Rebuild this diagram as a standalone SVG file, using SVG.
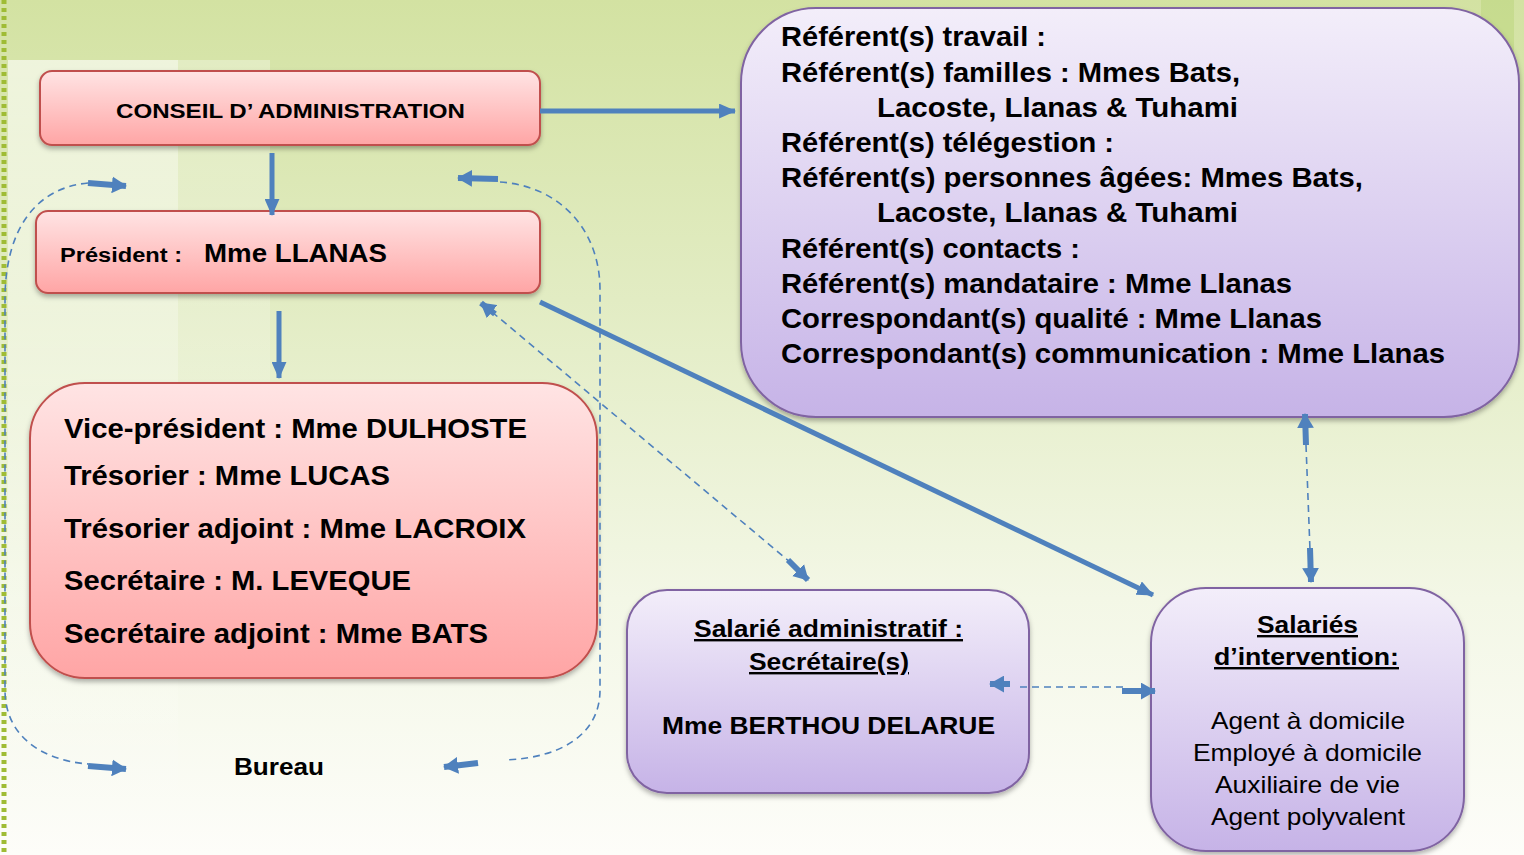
<svg xmlns="http://www.w3.org/2000/svg" width="1524" height="855" viewBox="0 0 1524 855">
<defs>
  <linearGradient id="bg" x1="0" y1="0" x2="0" y2="1">
    <stop offset="0" stop-color="#d3e2a2"/>
    <stop offset="0.35" stop-color="#e2ecc3"/>
    <stop offset="0.7" stop-color="#f3f7e6"/>
    <stop offset="1" stop-color="#fdfdf9"/>
  </linearGradient>
  <linearGradient id="bgL" x1="0" y1="0" x2="0" y2="1">
    <stop offset="0" stop-color="#ffffff" stop-opacity="0.6"/>
    <stop offset="1" stop-color="#ffffff" stop-opacity="0"/>
  </linearGradient>
  <linearGradient id="red" x1="0" y1="0" x2="0" y2="1">
    <stop offset="0" stop-color="#ffe4e4"/>
    <stop offset="1" stop-color="#ffa5a5"/>
  </linearGradient>
  <linearGradient id="purple" x1="0" y1="0" x2="0" y2="1">
    <stop offset="0" stop-color="#f3eefa"/>
    <stop offset="1" stop-color="#c6b3e7"/>
  </linearGradient>
  <filter id="sh" x="-10%" y="-10%" width="120%" height="130%">
    <feDropShadow dx="0" dy="3" stdDeviation="2.5" flood-color="#000" flood-opacity="0.3"/>
  </filter>
  <marker id="ah" viewBox="0 0 16 14" refX="15" refY="7" markerWidth="17" markerHeight="15" markerUnits="userSpaceOnUse" orient="auto">
    <path d="M0,0 L16,7 L0,14 z" fill="#4f81bd"/>
  </marker>
  <marker id="ahs" viewBox="0 0 16 18" refX="15" refY="9" markerWidth="15" markerHeight="17" markerUnits="userSpaceOnUse" orient="auto">
    <path d="M0,0 L16,9 L0,18 z" fill="#4f81bd"/>
  </marker>
  <style>
    .t{font-family:"Liberation Sans",Arial,sans-serif;font-weight:bold;fill:#000}
    .n{font-family:"Liberation Sans",Arial,sans-serif;font-weight:normal;fill:#000}
    .rbox{fill:url(#red);stroke:#c0504d;stroke-width:2}
    .pbox{fill:url(#purple);stroke:#8064a2;stroke-width:2}
    .solid{stroke:#4f81bd;stroke-width:5;fill:none}
    .stub{stroke:#4f81bd;stroke-width:6;fill:none}
    .dash{stroke:#4f81bd;stroke-width:1.6;fill:none;stroke-dasharray:7 5}
  </style>
</defs>

<g id="background">
  <rect x="0" y="0" width="1524" height="855" fill="url(#bg)"/>
  <rect x="8" y="60" width="170" height="795" fill="url(#bgL)"/>
  <rect x="178" y="60" width="92" height="700" fill="url(#bgL)" opacity="0.5"/>
  <rect x="1481" y="0" width="33" height="140" fill="#c3d98a" opacity="0.8"/>
  <line x1="4" y1="0" x2="4" y2="855" stroke="#9fbc35" stroke-width="5" stroke-dasharray="4 4"/>
</g>

<g id="conseil">
  <rect class="rbox" x="40" y="71" width="500" height="74" rx="12" filter="url(#sh)"/>
  <text class="t" x="116" y="118" font-size="21" textLength="349" lengthAdjust="spacingAndGlyphs">CONSEIL D’ ADMINISTRATION</text>
</g>

<g id="president">
  <rect class="rbox" x="36" y="211" width="504" height="82" rx="12" filter="url(#sh)"/>
  <text class="t" x="60" y="262" font-size="20" textLength="122" lengthAdjust="spacingAndGlyphs">Président :</text>
  <text class="t" x="204" y="262" font-size="26" textLength="183" lengthAdjust="spacingAndGlyphs">Mme LLANAS</text>
</g>

<g id="bureau-box">
  <rect class="rbox" x="30" y="383" width="567" height="295" rx="55" filter="url(#sh)"/>
  <text class="t" x="64" y="438" font-size="28" textLength="463" lengthAdjust="spacingAndGlyphs">Vice-président : Mme DULHOSTE</text>
  <text class="t" x="64" y="485" font-size="28" textLength="326" lengthAdjust="spacingAndGlyphs">Trésorier : Mme LUCAS</text>
  <text class="t" x="64" y="538" font-size="28" textLength="462" lengthAdjust="spacingAndGlyphs">Trésorier adjoint : Mme LACROIX</text>
  <text class="t" x="64" y="590" font-size="28" textLength="347" lengthAdjust="spacingAndGlyphs">Secrétaire : M. LEVEQUE</text>
  <text class="t" x="64" y="643" font-size="28" textLength="424" lengthAdjust="spacingAndGlyphs">Secrétaire adjoint : Mme BATS</text>
</g>

<g id="bureau-label">
  <text class="t" x="234" y="775" font-size="24" textLength="90" lengthAdjust="spacingAndGlyphs">Bureau</text>
</g>

<g id="referents">
  <rect class="pbox" x="741" y="8" width="778" height="409" rx="75" filter="url(#sh)"/>
  <text class="t" x="781" y="46" font-size="28" textLength="265" lengthAdjust="spacingAndGlyphs">Référent(s) travail :</text>
  <text class="t" x="781" y="82" font-size="28" textLength="459" lengthAdjust="spacingAndGlyphs">Référent(s) familles : Mmes Bats,</text>
  <text class="t" x="877" y="117" font-size="28" textLength="361" lengthAdjust="spacingAndGlyphs">Lacoste, Llanas &amp; Tuhami</text>
  <text class="t" x="781" y="152" font-size="28" textLength="333" lengthAdjust="spacingAndGlyphs">Référent(s) télégestion :</text>
  <text class="t" x="781" y="187" font-size="28" textLength="582" lengthAdjust="spacingAndGlyphs">Référent(s) personnes âgées: Mmes Bats,</text>
  <text class="t" x="877" y="222" font-size="28" textLength="361" lengthAdjust="spacingAndGlyphs">Lacoste, Llanas &amp; Tuhami</text>
  <text class="t" x="781" y="258" font-size="28" textLength="299" lengthAdjust="spacingAndGlyphs">Référent(s) contacts :</text>
  <text class="t" x="781" y="293" font-size="28" textLength="511" lengthAdjust="spacingAndGlyphs">Référent(s) mandataire : Mme Llanas</text>
  <text class="t" x="781" y="328" font-size="28" textLength="541" lengthAdjust="spacingAndGlyphs">Correspondant(s) qualité : Mme Llanas</text>
  <text class="t" x="781" y="363" font-size="28" textLength="664" lengthAdjust="spacingAndGlyphs">Correspondant(s) communication : Mme Llanas</text>
</g>

<g id="salarie-admin">
  <rect class="pbox" x="627" y="590" width="402" height="203" rx="40" filter="url(#sh)"/>
  <text class="t" x="694" y="637" font-size="24" textLength="269" lengthAdjust="spacingAndGlyphs" text-decoration="underline">Salarié administratif :</text>
  <text class="t" x="749" y="670" font-size="24" textLength="160" lengthAdjust="spacingAndGlyphs" text-decoration="underline">Secrétaire(s)</text>
  <text class="t" x="662" y="734" font-size="24" textLength="333" lengthAdjust="spacingAndGlyphs">Mme BERTHOU DELARUE</text>
</g>

<g id="salaries-intervention">
  <rect class="pbox" x="1151" y="588" width="313" height="263" rx="55" filter="url(#sh)"/>
  <text class="t" x="1257" y="633" font-size="24" textLength="101" lengthAdjust="spacingAndGlyphs" text-decoration="underline">Salariés</text>
  <text class="t" x="1214" y="665" font-size="24" textLength="185" lengthAdjust="spacingAndGlyphs" text-decoration="underline">d’intervention:</text>
  <text class="n" x="1211" y="729" font-size="24" textLength="194" lengthAdjust="spacingAndGlyphs">Agent à domicile</text>
  <text class="n" x="1193" y="761" font-size="24" textLength="229" lengthAdjust="spacingAndGlyphs">Employé à domicile</text>
  <text class="n" x="1215" y="793" font-size="24" textLength="185" lengthAdjust="spacingAndGlyphs">Auxiliaire de vie</text>
  <text class="n" x="1211" y="825" font-size="24" textLength="194" lengthAdjust="spacingAndGlyphs">Agent polyvalent</text>
</g>

<g id="connectors">
  <line class="solid" x1="540" y1="111" x2="735" y2="111" marker-end="url(#ah)"/>
  <line class="solid" x1="272" y1="153" x2="272" y2="215" marker-end="url(#ah)"/>
  <line class="solid" x1="279" y1="311" x2="279" y2="378" marker-end="url(#ah)"/>
  <line class="solid" x1="540" y1="302" x2="1153" y2="595" marker-end="url(#ah)"/>
  <line class="dash" x1="492" y1="312" x2="790" y2="562"/>
  <line class="stub" x1="495" y1="314" x2="481" y2="303" marker-end="url(#ahs)" stroke-width="3"/>
  <line class="stub" x1="788" y1="560" x2="808" y2="580" marker-end="url(#ahs)"/>
  <line class="dash" x1="1306" y1="445" x2="1310" y2="550"/>
  <line class="stub" x1="1306" y1="445" x2="1305" y2="414" marker-end="url(#ahs)"/>
  <line class="stub" x1="1310" y1="548" x2="1311" y2="582" marker-end="url(#ahs)"/>
  <line class="dash" x1="1020" y1="687" x2="1124" y2="687"/>
  <line class="stub" x1="1010" y1="684" x2="990" y2="684" marker-end="url(#ahs)"/>
  <line class="stub" x1="1122" y1="691" x2="1155" y2="691" marker-end="url(#ahs)"/>
  <path class="dash" d="M88,183 C35,188 5,230 5,300 L5,690 C5,735 40,760 88,764"/>
  <line class="stub" x1="88" y1="183" x2="126" y2="186" marker-end="url(#ahs)"/>
  <line class="stub" x1="88" y1="766" x2="126" y2="769" marker-end="url(#ahs)"/>
  <path class="dash" d="M500,182 C560,186 600,230 600,290 L600,690 C600,735 560,758 505,760"/>
  <line class="stub" x1="498" y1="179" x2="458" y2="178" marker-end="url(#ahs)"/>
  <line class="stub" x1="478" y1="763" x2="444" y2="767" marker-end="url(#ahs)"/>
</g>
</svg>
